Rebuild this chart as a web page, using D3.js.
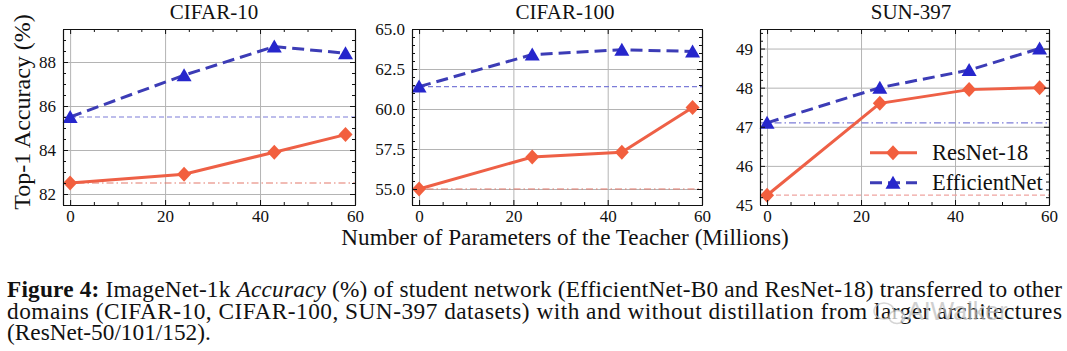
<!DOCTYPE html>
<html><head><meta charset="utf-8">
<script src="https://cdn.jsdelivr.net/npm/d3@7"></script>
<style>body{margin:0;background:#fff} svg{display:block} text{font-family:"Liberation Serif"}</style>
</head><body><svg id="c" width="1067" height="351"></svg>
<script>
// ---------------- data ----------------
const teacherParams = [0, 24, 43, 58];
const datasetNames = ["CIFAR-10", "CIFAR-100", "SUN-397"];
const resnetCifar10 = [82.5, 82.9, 83.9, 84.7];
const effnetCifar10 = [85.5, 87.4, 88.7, 88.4];
const resnetCifar100 = [55.0, 57.0, 57.3, 60.1];
const effnetCifar100 = [61.4, 63.4, 63.7, 63.6];
const resnetSun397 = [45.25, 47.6, 47.95, 48.0];
const effnetSun397 = [47.1, 48.0, 48.45, 49.0];
const resnetBaseline = [82.5, 55.0, 45.25];
const effnetBaseline = [85.5, 61.4, 47.1];
const xTicks = [0, 20, 40, 60];
const yTicksCifar10 = [82, 84, 86, 88];
const yTicksCifar100 = [55.0, 57.5, 60.0, 62.5, 65.0];
const yTicksSun397 = [45, 46, 47, 48, 49];
const seriesNames = ["ResNet-18", "EfficientNet"];

// ---------------- layout ----------------
const svg = d3.select("#c");
const plotTop = 29, plotBottom = 205;
const panels = [
  {left: 63, right: 355, ydom: [81.5, 89.5], yt: yTicksCifar10, fmt: d3.format("d"), minor: 0.5,
   res: resnetCifar10, eff: effnetCifar10, titleX: 214, effBase: "dash", resBase: "dashdot"},
  {left: 412, right: 702, ydom: [54.0, 65.0], yt: yTicksCifar100, fmt: d3.format(".1f"), minor: 0.5,
   res: resnetCifar100, eff: effnetCifar100, titleX: 565, effBase: "dash", resBase: "dashdot"},
  {left: 760, right: 1049, ydom: [45.0, 49.5], yt: yTicksSun397, fmt: d3.format("d"), minor: 0.2,
   res: resnetSun397, eff: effnetSun397, titleX: 911, effBase: "dashdot", resBase: "dash"}
];
const FONT = "Liberation Serif";
const RED = "#ee6046", RED_M = "#f25f3e", BLUE = "#3c3cb6", BLUE_M = "#2626cc";
const dashes = {dash: "5,3", dashdot: "7,3,1.5,3"};
const diamond = "M0,-7.5L7,0L0,7.5L-7,0Z";
const triangle = "M0,-7L7.5,6L-7.5,6Z";
const txt = (sel, size) => sel.style("font-family", FONT).style("font-size", size + "px").attr("fill", "#111");

panels.forEach((p, i) => {
  const x = d3.scaleLinear().domain([-1.5, 60]).range([p.left, p.right]);
  const y = d3.scaleLinear().domain(p.ydom).range([plotBottom, plotTop]);
  const w = p.right - p.left, h = plotBottom - plotTop;
  const g = svg.append("g");

  // grid
  g.append("g").attr("transform", `translate(0,${plotBottom})`)
    .call(d3.axisBottom(x).tickValues(xTicks).tickSize(-h).tickFormat(""))
    .call(a => { a.select(".domain").remove(); a.selectAll("line").attr("stroke", "#b4b4b4").attr("stroke-width", 1); });
  g.append("g").attr("transform", `translate(${p.left},0)`)
    .call(d3.axisLeft(y).tickValues(p.yt).tickSize(-w).tickFormat(""))
    .call(a => { a.select(".domain").remove(); a.selectAll("line").attr("stroke", "#b4b4b4").attr("stroke-width", 1); });

  // baselines (without distillation)
  const base = (val, col, style) => g.append("line")
    .attr("x1", p.left).attr("x2", p.right).attr("y1", y(val)).attr("y2", y(val))
    .attr("stroke", col).attr("stroke-width", 1.2).attr("stroke-dasharray", dashes[style]);
  base(effnetBaseline[i], "#7c7cd8", p.effBase);
  base(resnetBaseline[i], i === 2 ? "#f0a4a0" : "#e4796a", p.resBase);

  // series
  const line = d3.line().x((d, k) => x(teacherParams[k])).y(d => y(d));
  g.append("path").datum(p.res).attr("d", line).attr("fill", "none")
    .attr("stroke", RED).attr("stroke-width", 3);
  g.selectAll(".dm").data(p.res).join("path").attr("d", diamond)
    .attr("transform", (d, k) => `translate(${x(teacherParams[k])},${y(d)})`).attr("fill", RED_M);
  g.append("path").datum(p.eff).attr("d", line).attr("fill", "none")
    .attr("stroke", BLUE).attr("stroke-width", 3).attr("stroke-dasharray", "12,6");
  g.selectAll(".tr").data(p.eff).join("path").attr("d", triangle)
    .attr("transform", (d, k) => `translate(${x(teacherParams[k])},${y(d)})`).attr("fill", BLUE_M);

  // axes with inward ticks on all sides
  const style = a => { a.select(".domain").attr("stroke", "#111").attr("stroke-width", 1.1);
    a.selectAll("line").attr("stroke", "#111");
    txt(a.selectAll("text"), 17); };
  const xMinor = d3.range(0, 61, 5).filter(v => v % 20 !== 0);
  const yMinor = d3.range(p.ydom[0], p.ydom[1] + 1e-9, p.minor).filter(v => !p.yt.some(t => Math.abs(t - v) < 1e-6));
  g.append("g").attr("transform", `translate(0,${plotBottom})`)
    .call(d3.axisBottom(x).tickValues(xTicks).tickSize(-5).tickPadding(5).tickSizeOuter(0)).call(style);
  g.append("g").attr("transform", `translate(0,${plotBottom})`)
    .call(d3.axisBottom(x).tickValues(xMinor).tickSize(-3).tickFormat("").tickSizeOuter(0)).call(style);
  g.append("g").attr("transform", `translate(0,${plotTop})`)
    .call(d3.axisTop(x).tickValues(xTicks).tickSize(-5).tickFormat("").tickSizeOuter(0)).call(style);
  g.append("g").attr("transform", `translate(0,${plotTop})`)
    .call(d3.axisTop(x).tickValues(xMinor).tickSize(-3).tickFormat("").tickSizeOuter(0)).call(style);
  g.append("g").attr("transform", `translate(${p.left},0)`)
    .call(d3.axisLeft(y).tickValues(p.yt).tickSize(-5).tickPadding(7).tickFormat(p.fmt).tickSizeOuter(0)).call(style);
  g.append("g").attr("transform", `translate(${p.left},0)`)
    .call(d3.axisLeft(y).tickValues(yMinor).tickSize(-3).tickFormat("").tickSizeOuter(0)).call(style);
  g.append("g").attr("transform", `translate(${p.right},0)`)
    .call(d3.axisRight(y).tickValues(p.yt).tickSize(-5).tickFormat("").tickSizeOuter(0)).call(style);
  g.append("g").attr("transform", `translate(${p.right},0)`)
    .call(d3.axisRight(y).tickValues(yMinor).tickSize(-3).tickFormat("").tickSizeOuter(0)).call(style);

  // title
  txt(svg.append("text").attr("x", p.titleX).attr("y", 19).attr("text-anchor", "middle"), 21).text(datasetNames[i]);

  // legend
  if (i === 2) {
    const lg = svg.append("g");
    const rows = [152.7, 182.7];
    lg.append("line").attr("x1", 870).attr("x2", 917).attr("y1", rows[0]).attr("y2", rows[0])
      .attr("stroke", RED).attr("stroke-width", 3);
    lg.append("path").attr("d", diamond).attr("transform", `translate(893,${rows[0]})`).attr("fill", RED_M);
    lg.append("line").attr("x1", 870).attr("x2", 917).attr("y1", rows[1]).attr("y2", rows[1])
      .attr("stroke", BLUE).attr("stroke-width", 3).attr("stroke-dasharray", "12,6");
    lg.append("path").attr("d", triangle).attr("transform", `translate(893,${rows[1]})`).attr("fill", BLUE_M);
    seriesNames.forEach((s, k) => txt(lg.append("text").attr("x", 932).attr("y", rows[k] + 7.5), 22.5).text(s));
  }
});

// axis labels
txt(svg.append("text").attr("transform", "translate(30,112) rotate(-90)").attr("text-anchor", "middle"), 24)
  .text("Top-1 Accuracy (%)");
txt(svg.append("text").attr("x", 565).attr("y", 245).attr("text-anchor", "middle"), 23.2)
  .text("Number of Parameters of the Teacher (Millions)");

// caption
const l1 = txt(svg.append("text").attr("x", 7).attr("y", 297).attr("textLength", 1055).attr("lengthAdjust", "spacing"), 23.3);
l1.append("tspan").attr("font-weight", "bold").text("Figure 4:");
l1.append("tspan").text(" ImageNet-1k ");
l1.append("tspan").attr("font-style", "italic").text("Accuracy");
l1.append("tspan").text(" (%) of student network (EfficientNet-B0 and ResNet-18) transferred to other");
txt(svg.append("text").attr("x", 7).attr("y", 318.5).attr("textLength", 1055).attr("lengthAdjust", "spacing"), 23.3)
  .text("domains (CIFAR-10, CIFAR-100, SUN-397 datasets) with and without distillation from larger architectures");
txt(svg.append("text").attr("x", 7).attr("y", 340), 23.3).text("(ResNet-50/101/152).");
// watermark
const wm = svg.append("g").attr("opacity", 0.7);
wm.append("ellipse").attr("cx", 884).attr("cy", 311).attr("rx", 10).attr("ry", 8)
  .attr("fill", "none").attr("stroke", "#c4c4c4").attr("stroke-width", 1.5);
wm.append("ellipse").attr("cx", 897).attr("cy", 317).attr("rx", 8).attr("ry", 6.5)
  .attr("fill", "#fff").attr("stroke", "#c4c4c4").attr("stroke-width", 1.5);
wm.append("text").attr("x", 907).attr("y", 320).style("font-family", "Liberation Sans")
  .style("font-size", "25px").attr("fill", "#bdbdbd").text("AIWalker");
</script></body></html>
